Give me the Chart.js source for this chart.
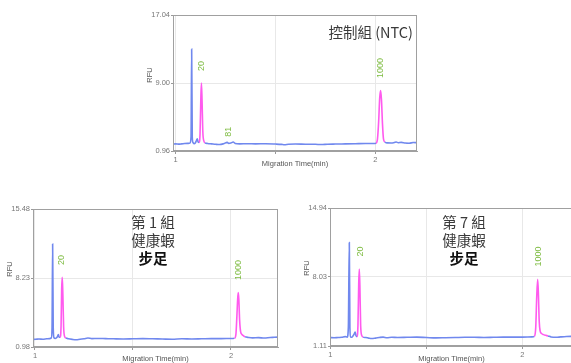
<!DOCTYPE html>
<html lang="zh-Hant">
<head>
<meta charset="UTF-8">
<title>Electropherograms</title>
<script src="https://cdn.jsdelivr.net/npm/chart.js"></script>
<style>
    body { margin: 0; width: 571px; height: 363px; overflow: hidden; position: relative; background: #fff; }
    canvas { position: absolute; }
    .title { position: absolute; color: #3a3a3a; font-family: "Noto Sans CJK TC", sans-serif; font-size: 14.5px; line-height: 18px; white-space: nowrap; }
    .title b { color: #111; }
</style>
</head>
<body>
<canvas id="ntcChart" width="292" height="172" style="left:130px;top:0"></canvas>
<canvas id="g1Chart" width="285" height="168" style="left:0;top:195px"></canvas>
<canvas id="g7Chart" width="293" height="168" style="left:285px;top:195px"></canvas>

<div class="title" style="left:300px;top:23px;width:113px;text-align:right">控制組 (NTC)</div>
<div class="title" style="left:103px;top:213px;width:100px;text-align:center">第 1 組<br>健康蝦<br><b>步足</b></div>
<div class="title" style="left:414px;top:213px;width:100px;text-align:center">第 7 組<br>健康蝦<br><b>步足</b></div>

<script>
    // shared axis ticks
    const xTicks = [1, 1.5, 2];
    const xTickLabels = ['1', '', '2'];

    // control (NTC)
    const ntcTime = [0.987, 1.000, 1.015, 1.030, 1.045, 1.060, 1.072, 1.077, 1.080, 1.083, 1.087, 1.092, 1.098, 1.104, 1.108, 1.112,
        1.117, 1.122, 1.126, 1.129, 1.132, 1.136, 1.141, 1.147, 1.160, 1.180, 1.200, 1.220, 1.240, 1.258, 1.266, 1.276, 1.288, 1.298,
        1.320, 1.360, 1.400, 1.450, 1.500, 1.530, 1.545, 1.565, 1.600, 1.650, 1.700, 1.730, 1.760, 1.800, 1.850, 1.900, 1.950, 1.990,
        2.004, 2.011, 2.017, 2.022, 2.027, 2.031, 2.036, 2.041, 2.048, 2.060, 2.080, 2.095, 2.105, 2.115, 2.130, 2.150, 2.170, 2.190, 2.209];
    const ntcRfu = [1.78, 1.80, 1.77, 1.80, 1.84, 1.86, 1.90, 2.70, 13.00, 2.60, 1.95, 1.82, 1.90, 2.20, 2.40, 2.05,
        1.98, 3.00, 7.20, 9.00, 7.00, 3.20, 2.15, 1.92, 1.85, 1.80, 1.75, 1.72, 1.82, 1.98, 1.85, 1.90, 2.02, 1.85,
        1.80, 1.82, 1.80, 1.82, 1.78, 1.74, 1.70, 1.76, 1.78, 1.76, 1.75, 1.72, 1.76, 1.78, 1.80, 1.82, 1.84, 1.85,
        1.88, 2.40, 4.50, 7.20, 8.10, 7.00, 4.20, 2.40, 2.02, 1.92, 1.90, 1.96, 2.02, 1.94, 1.98, 1.90, 1.88, 1.96, 1.95];
    const ntcPink = [[1.116, 1.148], [2.002, 2.052]];
    const ntcYTicks = [0.96, 9.00, 17.04];
    const ntcLabels = ['20', '81', '1000'];
    const ntcLabelTime = [1.127, 1.264, 2.027];
    const ntcLabelRfu = [11.0, 3.24, 10.77];

    // group 1
    const g1Time = [0.990, 1.005, 1.020, 1.040, 1.060, 1.075, 1.083, 1.087, 1.090, 1.093, 1.097, 1.103, 1.110, 1.115, 1.119, 1.123,
        1.128, 1.133, 1.136, 1.139, 1.142, 1.146, 1.151, 1.158, 1.170, 1.190, 1.210, 1.230, 1.250, 1.270, 1.290, 1.320, 1.360, 1.400,
        1.450, 1.500, 1.550, 1.600, 1.650, 1.700, 1.750, 1.800, 1.850, 1.900, 1.950, 2.000, 2.018, 2.025, 2.030, 2.034, 2.037, 2.040,
        2.044, 2.049, 2.056, 2.064, 2.072, 2.090, 2.110, 2.140, 2.170, 2.200, 2.220, 2.240];
    const g1Rfu = [1.78, 1.80, 1.82, 1.80, 1.84, 1.86, 1.92, 3.00, 11.80, 3.00, 1.95, 1.88, 1.95, 2.10, 2.30, 2.00,
        2.00, 3.20, 7.00, 8.30, 6.60, 3.10, 2.10, 1.92, 1.85, 1.78, 1.74, 1.80, 1.84, 1.92, 1.86, 1.88, 1.86, 1.84,
        1.82, 1.84, 1.86, 1.84, 1.82, 1.80, 1.84, 1.82, 1.84, 1.86, 1.86, 1.88, 1.90, 2.30, 4.20, 6.00, 6.70, 6.00,
        3.80, 2.60, 2.30, 2.15, 2.05, 1.98, 1.94, 1.96, 1.92, 1.98, 2.00, 2.02];
    const g1Pink = [[1.127, 1.159], [2.017, 2.073]];
    const g1YTicks = [0.98, 8.23, 15.48];
    const g1Labels = ['20', '1000'];
    const g1LabelTime = [1.136, 2.039];
    const g1LabelRfu = [10.12, 9.07];

    // group 7
    const g7Time = [0.998, 1.020, 1.040, 1.060, 1.077, 1.088, 1.094, 1.099, 1.102, 1.106, 1.112, 1.118, 1.124, 1.129, 1.134, 1.139,
        1.144, 1.148, 1.151, 1.154, 1.158, 1.164, 1.171, 1.185, 1.200, 1.215, 1.235, 1.255, 1.275, 1.295, 1.320, 1.350, 1.400, 1.450,
        1.500, 1.550, 1.600, 1.650, 1.700, 1.750, 1.800, 1.850, 1.900, 1.950, 2.000, 2.050, 2.063, 2.070, 2.075, 2.080, 2.084, 2.088,
        2.093, 2.100, 2.110, 2.122, 2.134, 2.150, 2.175, 2.200, 2.230, 2.264];
    const g7Rfu = [1.95, 1.94, 1.96, 1.98, 2.05, 2.00, 3.00, 11.48, 3.00, 2.00, 1.98, 2.12, 2.30, 2.50, 2.15, 2.05,
        3.20, 7.40, 8.83, 7.20, 3.20, 2.15, 2.00, 1.96, 1.90, 1.86, 1.90, 1.96, 2.00, 1.94, 1.98, 1.96, 1.98, 2.00,
        1.96, 1.92, 1.94, 1.96, 1.98, 1.98, 1.96, 1.98, 2.00, 2.00, 2.00, 2.02, 2.08, 3.00, 6.00, 7.79, 6.20, 3.60,
        2.60, 2.36, 2.25, 2.18, 2.12, 2.02, 1.98, 2.02, 2.06, 2.08];
    const g7Pink = [[1.138, 1.172], [2.062, 2.136]];
    const g7YTicks = [1.11, 8.03, 14.94];
    const g7Labels = ['20', '1000'];
    const g7LabelTime = [1.155, 2.083];
    const g7LabelRfu = [10.57, 10.07];

    const BLUE = '#7088ee';
    const PINK = '#ff5aee';
    const GREEN = '#7dbb40';
    const FONT = '"Liberation Sans", Arial, sans-serif';

    // frame round the plot, RFU title and rotated peak labels
    const extrasPlugin = {
        id: 'extras',
        afterDatasetsDraw(chart, args, opts) {
            const { ctx, chartArea: a, scales } = chart;
            ctx.save();
            ctx.strokeStyle = '#a0a0a0';
            ctx.lineWidth = 1;
            ctx.strokeRect(a.left + 0.5, a.top + 0.5, a.right - a.left - 1, a.bottom - a.top - 1);

            ctx.textAlign = 'center';
            ctx.textBaseline = 'middle';
            ctx.fillStyle = GREEN;
            ctx.font = '9px ' + FONT;
            opts.labels.forEach((text, i) => {
                const x = scales.x.getPixelForValue(opts.labelTime[i]);
                const y = scales.y.getPixelForValue(opts.labelRfu[i]);
                ctx.save();
                ctx.translate(x, y);
                ctx.rotate(-Math.PI / 2);
                ctx.fillText(text, 0, 0);
                ctx.restore();
            });

            ctx.fillStyle = '#555';
            ctx.font = '7.5px ' + FONT;
            ctx.translate(a.left - 23, a.top + 60);
            ctx.rotate(-Math.PI / 2);
            ctx.fillText('RFU', 0, 0);
            ctx.restore();
        }
    };

    function makeChart(id, d) {
        const points = d.time.map((t, i) => ({ x: t, y: d.rfu[i] }));
        const inPink = x => d.pink.some(r => x >= r[0] && x <= r[1]);
        const yTicks = d.yTicks;

        return new Chart(document.getElementById(id), {
            type: 'line',
            data: {
                datasets: [{
                    data: points,
                    borderColor: BLUE,
                    borderWidth: 1.6,
                    pointRadius: 0,
                    cubicInterpolationMode: 'monotone',
                    segment: {
                        borderColor: c => (inPink(c.p0.parsed.x) && inPink(c.p1.parsed.x)) ? PINK : BLUE
                    }
                }]
            },
            options: {
                responsive: false,
                animation: false,
                events: [],
                layout: { padding: d.pad },
                plugins: {
                    legend: { display: false },
                    tooltip: { enabled: false },
                    extras: { labels: d.labels, labelTime: d.labelTime, labelRfu: d.labelRfu }
                },
                scales: {
                    x: {
                        type: 'linear',
                        min: d.xMin,
                        max: d.xMax,
                        afterBuildTicks: s => { s.ticks = xTicks.map(v => ({ value: v })); },
                        afterFit: s => { s.height = d.xAxisH; },
                        ticks: {
                            callback: (v, i) => xTickLabels[i],
                            font: { size: 7.5, family: FONT },
                            color: '#777',
                            padding: 1,
                            maxRotation: 0,
                            autoSkip: false
                        },
                        grid: { color: '#e8e8e8', tickColor: '#999', tickLength: 3 },
                        border: { color: '#a0a0a0' },
                        title: {
                            display: true,
                            text: 'Migration Time(min)',
                            font: { size: 7.5, family: FONT },
                            color: '#555',
                            padding: 0
                        }
                    },
                    y: {
                        min: yTicks[0],
                        max: yTicks[yTicks.length - 1],
                        afterBuildTicks: s => { s.ticks = yTicks.map(v => ({ value: v })); },
                        afterFit: s => { s.width = d.yAxisW; },
                        ticks: {
                            callback: (v, i) => yTicks[i].toFixed(2),
                            font: { size: 7.5, family: FONT },
                            color: '#777',
                            padding: 1
                        },
                        grid: { color: '#e8e8e8', tickColor: '#999', tickLength: 2 },
                        border: { color: '#a0a0a0' }
                    }
                }
            },
            plugins: [extrasPlugin]
        });
    }

    makeChart('ntcChart', {
        time: ntcTime, rfu: ntcRfu, pink: ntcPink, yTicks: ntcYTicks,
        labels: ntcLabels, labelTime: ntcLabelTime, labelRfu: ntcLabelRfu,
        xMin: 0.9865, xMax: 2.209,
        pad: { left: 0, top: 15, right: 5, bottom: 4 }, yAxisW: 43, xAxisH: 17
    });

    makeChart('g1Chart', {
        time: g1Time, rfu: g1Rfu, pink: g1Pink, yTicks: g1YTicks,
        labels: g1Labels, labelTime: g1LabelTime, labelRfu: g1LabelRfu,
        xMin: 0.9898, xMax: 2.2398,
        pad: { left: 0, top: 14, right: 7, bottom: 0 }, yAxisW: 33, xAxisH: 16
    });

    makeChart('g7Chart', {
        time: g7Time, rfu: g7Rfu, pink: g7Pink, yTicks: g7YTicks,
        labels: g7Labels, labelTime: g7LabelTime, labelRfu: g7LabelRfu,
        xMin: 0.9984, xMax: 2.264,
        pad: { left: 0, top: 13, right: 5, bottom: 0 }, yAxisW: 45, xAxisH: 17
    });
</script>
</body>
</html>
